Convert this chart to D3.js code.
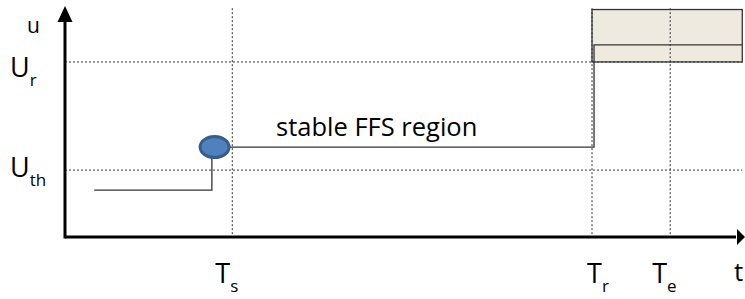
<!DOCTYPE html>
<html>
<head>
<meta charset="utf-8">
<script src="https://cdn.jsdelivr.net/npm/d3@7"></script>
<style>
  body { margin: 0; background: #fff; }
  svg { display: block; font-family: "Open Sans", sans-serif; }
</style>
</head>
<body>
<script>
// time marks on the t axis
const timeNames = ["s", "r", "e"];
const timeValues = [24.6, 77.5, 89.0];
// voltage levels on the u axis
const levelNames = ["r", "th"];
const levelValues = [76.1, 29.1];
// the u(t) trace (step line)
const lowX = [4.3, 21.6];
const lowY = [20.4, 20.4];
const traceX = [22.0, 77.8, 77.8, 99.6];
const traceY = [39.1, 39.1, 83.5, 83.5];
// start point marker
const markX = 22.0, markY = 39.1;
// region shaded after T_r
const regionX = [77.5, 99.6];
const regionY = [76.1, 98.9];
const regionLabel = "stable FFS region";

const width = 745;
const height = 299;

const svg = d3.select("body").append("svg").attr("width", width).attr("height", height);

const x = d3.scaleLinear().domain([0, 100]).range([65, 745]);
const y = d3.scaleLinear().domain([0, 100]).range([237, 7]);

// shaded region
svg.append("rect")
  .attr("x", x(regionX[0]))
  .attr("y", y(regionY[1]))
  .attr("width", x(regionX[1]) - x(regionX[0]))
  .attr("height", y(regionY[0]) - y(regionY[1]))
  .attr("fill", "#eeeae0")
  .attr("stroke", "#333")
  .attr("stroke-width", 1.3);

// dotted guides
svg.selectAll(".hguide")
  .data(levelValues)
  .enter().append("line")
  .attr("x1", x(0)).attr("x2", x(99.6))
  .attr("y1", d => y(d)).attr("y2", d => y(d))
  .attr("stroke", "#333").attr("stroke-width", 1).attr("stroke-dasharray", "2,2");

svg.selectAll(".vguide")
  .data(timeValues)
  .enter().append("line")
  .attr("x1", d => x(d)).attr("x2", d => x(d))
  .attr("y1", y(99.5)).attr("y2", y(0))
  .attr("stroke", "#333").attr("stroke-width", 1).attr("stroke-dasharray", "2,2");

// trace
const line = d3.line().x(d => x(d[0])).y(d => y(d[1]));
svg.append("path")
  .attr("d", line([[lowX[0], lowY[0]], [lowX[1], lowY[1]], [lowX[1], markY]]))
  .attr("fill", "none").attr("stroke", "#333").attr("stroke-width", 1.3);
svg.append("path")
  .attr("d", line(traceX.map((d, i) => [d, traceY[i]])))
  .attr("fill", "none").attr("stroke", "#333").attr("stroke-width", 1.3);

svg.append("ellipse")
  .attr("cx", x(markX)).attr("cy", y(markY))
  .attr("rx", 14.5).attr("ry", 10.5)
  .attr("fill", "#4f81bd").attr("stroke", "#385d8a").attr("stroke-width", 3);

// axes
svg.append("line")
  .attr("x1", x(0)).attr("x2", x(0)).attr("y1", y(0) + 1.5).attr("y2", 20)
  .attr("stroke", "#000").attr("stroke-width", 3);
svg.append("line")
  .attr("x1", x(0)).attr("x2", 736).attr("y1", y(0)).attr("y2", y(0))
  .attr("stroke", "#000").attr("stroke-width", 3);
svg.append("path")
  .attr("d", `M${x(0) - 7.5},22 L${x(0) + 7.5},22 L${x(0)},6 Z`)
  .attr("fill", "#000");
svg.append("path")
  .attr("d", `M737,${y(0) - 8} L737,${y(0) + 8} L745,${y(0)} Z`)
  .attr("fill", "#000");

// region label
svg.append("text")
  .attr("x", 276).attr("y", 136)
  .attr("font-size", 25.5).attr("fill", "#000")
  .text(regionLabel);

// axis labels
svg.append("text").attr("x", 27).attr("y", 33).attr("font-size", 21).text("u");
svg.append("text").attr("x", 734).attr("y", 281).attr("font-size", 26).text("t");

const sub = (main, s, xPos, yPos, dy) => {
  const t = svg.append("text").attr("x", xPos).attr("y", yPos).attr("font-size", 27);
  t.append("tspan").text(main);
  t.append("tspan").attr("font-size", 17).attr("dy", dy).text(s);
};

// label baselines relative to their guide lines
const levelShift = [15, 7];
levelNames.forEach((n, i) => sub("U", n, 10, y(levelValues[i]) + levelShift[i], 9));
const timeShift = [-17, -5, -18];
timeNames.forEach((n, i) => sub("T", n, x(timeValues[i]) + timeShift[i], 283, 9));
</script>
</body>
</html>
